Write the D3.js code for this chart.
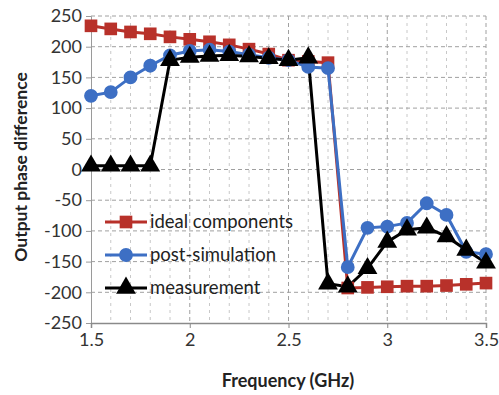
<!DOCTYPE html>
<html><head><meta charset="utf-8">
<script src="https://cdn.jsdelivr.net/npm/d3@7"></script>
<style>html,body{margin:0;padding:0;background:#fff;}svg{display:block;}</style>
</head><body>
<script>
const freqs = [1.5,1.6,1.7,1.8,1.9,2.0,2.1,2.2,2.3,2.4,2.5,2.6,2.7,2.8,2.9,3.0,3.1,3.2,3.3,3.4,3.5];
const ideal = [234,229,224,221,216,212,208,203,196,188,178,176,174,-193,-192,-191,-190,-190,-189,-187,-185];
const postSim = [120,126,150,169,186,193,195,192,187,182,178,167,165,-159,-95,-93,-87,-55,-74,-134,-138];
const measurement = [6,6,6,6,178,183,185,186,184,181,178,182,-186,-191,-161,-118,-98,-95,-109,-131,-152];
const yTicks = [250,200,150,100,50,0,-50,-100,-150,-200,-250];
const xTicks = [1.5,2,2.5,3,3.5];
const seriesNames = ["ideal components","post-simulation","measurement"];

const W=499,H=395;
const svg=d3.select("body").append("svg").attr("width",W).attr("height",H);
const x=d3.scaleLinear().domain([1.5,3.5]).range([91,486]);
const y=d3.scaleLinear().domain([-250,250]).range([323,16]);
const font="Lato, 'Open Sans', sans-serif";

// minor vertical grid
const minor=d3.range(15,36).map(d=>d/10);
svg.append("g").selectAll("line").data(minor.filter(d=>Math.abs(d*2-Math.round(d*2))>1e-6)).join("line")
 .attr("x1",d=>x(d)).attr("x2",d=>x(d)).attr("y1",y(250)).attr("y2",y(-250))
 .attr("stroke","#c8c8c8").attr("stroke-width",1).attr("stroke-dasharray","3,4");
// major vertical grid
svg.append("g").selectAll("line").data(xTicks.slice(1)).join("line")
 .attr("x1",d=>x(d)).attr("x2",d=>x(d)).attr("y1",y(250)).attr("y2",y(-250))
 .attr("stroke","#a0a0a0").attr("stroke-width",1).attr("stroke-dasharray","4,3");
// horizontal grid
svg.append("g").selectAll("line").data(yTicks.filter(d=>d!==-250)).join("line")
 .attr("x1",x(1.5)).attr("x2",x(3.5)).attr("y1",d=>y(d)).attr("y2",d=>y(d))
 .attr("stroke","#a0a0a0").attr("stroke-width",1).attr("stroke-dasharray","4,3");

// axes
const yAxis=d3.axisLeft(y).tickValues(yTicks).tickSize(5).tickFormat(d=>String(d));
const gy=svg.append("g").attr("transform",`translate(${x(1.5)},0)`).call(yAxis);
gy.select(".domain").attr("stroke","#9a9a9a");
gy.selectAll(".tick line").attr("stroke","#9a9a9a");
gy.selectAll("text").attr("font-family",font).attr("font-size",18).attr("fill","#333").attr("x",-9);

const xAxis=d3.axisBottom(x).tickValues(xTicks).tickSize(5).tickFormat(d=>String(d));
const gx=svg.append("g").attr("transform",`translate(0,${y(-250)})`).call(xAxis);
gx.select(".domain").attr("stroke","#8a8a8a").attr("stroke-width",1.5);
gx.selectAll(".tick line").attr("stroke","#8a8a8a");
gx.selectAll("text").attr("font-family",font).attr("font-size",18).attr("fill","#333").attr("y",10);

// titles
svg.append("text").attr("x",288).attr("y",387).attr("text-anchor","middle")
 .attr("font-family",font).attr("font-weight","bold").attr("font-size",18).attr("fill","#222").text("Frequency (GHz)");
svg.append("text").attr("transform","translate(27,167) rotate(-90)").attr("text-anchor","middle")
 .attr("font-family",font).attr("font-weight","bold").attr("font-size",17.5).attr("fill","#222").text("Output phase difference");

const colors=["#b8312a","#3d6fc4","#000000"];
const data=[ideal,postSim,measurement];
const line=d3.line().x((d,i)=>x(freqs[i])).y(d=>y(d));
const sym=[d3.symbolSquare,d3.symbolCircle,d3.symbolTriangle];
const sizes=[160,150,170];

data.forEach((s,k)=>{
  svg.append("path").datum(s).attr("d",line).attr("fill","none").attr("stroke",colors[k]).attr("stroke-width",3);
});
data.forEach((s,k)=>{
  svg.append("g").selectAll("path").data(s).join("path")
   .attr("transform",(d,i)=>`translate(${x(freqs[i])},${y(d)})`)
   .attr("d",d3.symbol().type(sym[k]).size(sizes[k])).attr("fill",colors[k]);
});

// legend
const ly=[222,255,288];
seriesNames.forEach((n,k)=>{
  const g=svg.append("g");
  g.append("line").attr("x1",105).attr("x2",147).attr("y1",ly[k]).attr("y2",ly[k]).attr("stroke",colors[k]).attr("stroke-width",3);
  g.append("path").attr("transform",`translate(126,${ly[k]})`).attr("d",d3.symbol().type(sym[k]).size(sizes[k])).attr("fill",colors[k]);
  g.append("text").attr("x",150).attr("y",ly[k]).attr("dy","0.35em").attr("font-family",font).attr("font-size",18.5).attr("fill","#222").text(n);
});
</script>
</body></html>
